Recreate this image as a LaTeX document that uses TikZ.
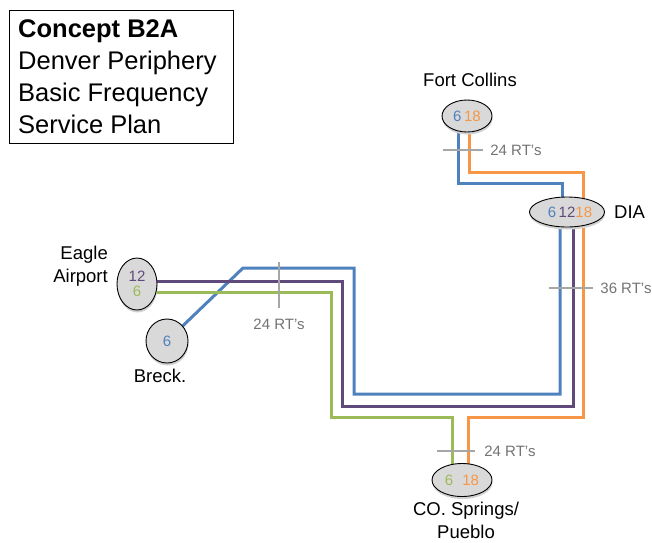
\documentclass[tikz,border=0pt]{standalone}
\usepackage{fontspec}
\setmainfont{Liberation Sans}
\usetikzlibrary{positioning, backgrounds, shapes.geometric, shadows}
\definecolor{routeblue}{RGB}{79,129,189}
\definecolor{routeorange}{RGB}{247,150,70}
\definecolor{routepurple}{RGB}{96,74,123}
\definecolor{routegreen}{RGB}{155,187,89}
\definecolor{stopgray}{RGB}{217,217,217}
\tikzset{
  stop/.style={ellipse, draw, line width=0.9, fill=stopgray, inner sep=0pt,
    font=\fontsize{15}{15}\selectfont,
    drop shadow={shadow xshift=0.5pt, shadow yshift=-2.5pt, fill=black!18, opacity=1}},
  placelabel/.style={inner sep=0pt, font=\fontsize{18.5}{23}\selectfont},
  route/.style={line width=3, line join=miter},
  tickline/.style={line width=2.8, draw=black!35},
  rtlabel/.style={inner sep=0pt, text=black!55, font=\fontsize{15}{18}\selectfont}
}
\newcommand{\cb}[1]{\textcolor{routeblue}{#1}}
\newcommand{\co}[1]{\textcolor{routeorange}{#1}}
\newcommand{\cpu}[1]{\textcolor{routepurple}{#1}}
\newcommand{\cg}[1]{\textcolor{routegreen}{#1}}
\begin{document}
\begin{tikzpicture}[x=1pt, y=-1pt]
      \useasboundingbox (0,0) rectangle (652,542);
      % title
      \node[draw, line width=1, minimum width=224, minimum height=133, anchor=north west] (titlebox) at (9,10) {};
      \node[anchor=north west, inner sep=0pt, align=left, font=\fontsize{25.5}{32}\selectfont] (titletext) at (18,19)
        {\textbf{Concept B2A}\\Denver Periphery\\Basic Frequency\\Service Plan};
      % stations
      \node[stop, minimum width=50, minimum height=32] (fc) at (467,116) {\cb{6}\,\co{18}};
      \node[stop, minimum width=75, minimum height=30] (dia) at (567,212) {\hspace{6pt}\cb{6}\,\cpu{12}\co{18}};
      \node[stop, minimum width=40, minimum height=52, align=center] (eag) at (137,284) {\cpu{12}\\\cg{6}};
      \node[stop, minimum width=42, minimum height=44] (brk) at (167,341) {\cb{6}};
      \node[stop, minimum width=60, minimum height=33] (spr) at (462,480) {\cg{6}\hspace{9pt}\co{18}};
      % station names
      \node[placelabel, anchor=base] (fclabel) at (470,86) {Fort Collins};
      \node[placelabel, anchor=base west] (dialabel) at (614,218) {DIA};
      \node[placelabel, anchor=north east, align=right] (eaglabel) at (108,246) {Eagle\\Airport};
      \node[placelabel, anchor=base] (brklabel) at (160,382) {Breck.};
      \node[placelabel, anchor=north, align=center] (sprlabel) at (466,502) {CO. Springs/\\Pueblo};
      % routes
      \begin{scope}[on background layer]
        \draw[route, routeblue] ([xshift=-9]fc.center) |- (562,183) -- ([xshift=-5]dia.center);
        \draw[route, routeblue] ([xshift=-7]dia.center) |- (354,394) |- (243,268) -- (brk.center);
        \draw[route, routeorange] ([xshift=2]fc.center) |- (583,172) -- ([xshift=16]dia.center);
        \draw[route, routeorange] ([xshift=16]dia.center) |- (468,417) -- ([xshift=6]spr.center);
        \draw[route, routepurple] (eag.center |- 0,281) -| (342,406) -| ([xshift=6]dia.center);
        \draw[route, routegreen] (eag.center |- 0,292) -| (331,417) -| ([xshift=-10]spr.center);
      \end{scope}
      % round trips
      \draw[tickline] (443,150) -- (483,150) node[rtlabel, right=6pt] (rtfc) {24 RT's};
      \draw[tickline] (549,288) -- (593,288) node[rtlabel, right=6pt] (rtdia) {36 RT's};
      \draw[tickline] (279,262) -- (279,308) node[rtlabel, below=10pt] (rtwest) {24 RT's};
      \draw[tickline] (437,451) -- (475,451) node[rtlabel, right=8pt] (rtspr) {24 RT's};
    \end{tikzpicture}
\end{document}
